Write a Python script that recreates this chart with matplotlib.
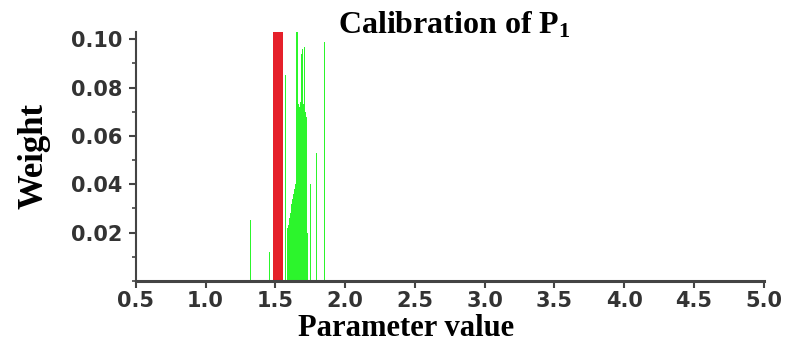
import numpy as np
import matplotlib
matplotlib.use("Agg")
from matplotlib import pyplot as plt
from matplotlib.ticker import MultipleLocator

# particle values and weights (green) and the selected value (red)
green_x = [1.324, 1.460, 1.575, 1.585, 1.590, 1.595, 1.600, 1.605, 1.610,
           1.615, 1.620, 1.625, 1.630, 1.635, 1.640, 1.645, 1.650, 1.655,
           1.660, 1.665, 1.670, 1.675, 1.680, 1.685, 1.690, 1.695, 1.700,
           1.705, 1.710, 1.715, 1.720, 1.725, 1.730, 1.751, 1.794, 1.854]
green_w = [0.025, 0.012, 0.085, 0.022, 0.021, 0.023, 0.024, 0.026, 0.028,
           0.030, 0.032, 0.034, 0.036, 0.037, 0.038, 0.040, 0.072, 0.103,
           0.074, 0.073, 0.070, 0.072, 0.074, 0.075, 0.094, 0.096, 0.073,
           0.071, 0.097, 0.070, 0.068, 0.030, 0.020, 0.040, 0.053, 0.099]
red_x = [1.52]
red_w = [0.103]

x_ticks = [0.5, 1.0, 1.5, 2.0, 2.5, 3.0, 3.5, 4.0, 4.5, 5.0]
y_ticks = [0.02, 0.04, 0.06, 0.08, 0.10]

plt.rcParams["mathtext.fontset"] = "custom"
plt.rcParams["mathtext.rm"] = "Liberation Serif:bold"
plt.rcParams["mathtext.bf"] = "Liberation Serif:bold"
plt.rcParams["mathtext.it"] = "Liberation Serif:bold"

fig = plt.figure(figsize=(7.94, 3.48), dpi=100)
ax = fig.add_axes([0.171, 0.193, 0.791, 0.715])

ax.bar(green_x, green_w, width=0.009, color="#2cf52c", edgecolor="none", align="center")
ax.bar(red_x, red_w, width=0.07, color="#e5202a", edgecolor="none", align="center")

ax.set_xlim(0.5, 5.0)
ax.set_ylim(0, 0.103)
ax.set_xticks(x_ticks)
ax.set_xticklabels(["%.1f" % v for v in x_ticks])
ax.set_yticks(y_ticks)
ax.set_yticklabels(["%.2f" % v for v in y_ticks])
ax.yaxis.set_minor_locator(MultipleLocator(0.01))

for s in ["top", "right"]:
    ax.spines[s].set_visible(False)
ax.spines["bottom"].set_linewidth(2.2)
ax.spines["left"].set_linewidth(1.5)
ax.spines["bottom"].set_color("#444444")
ax.spines["left"].set_color("#444444")

ax.tick_params(axis="both", which="major", direction="out", length=5,
               width=1.5, color="#444444", labelcolor="#333333", labelsize=15)
ax.tick_params(axis="x", pad=2)
ax.tick_params(axis="y", pad=5)
ax.tick_params(axis="y", which="minor", direction="out", length=3, width=1.2, color="#444444")
for lab in ax.get_xticklabels() + ax.get_yticklabels():
    lab.set_fontweight("bold")

ax.set_xlabel("Parameter value", family="Liberation Serif", fontweight="bold", fontsize=22)
ax.xaxis.set_label_coords(0.43, -0.135)
ax.set_ylabel("Weight", family="Liberation Serif", fontweight="bold", fontsize=25)
ax.yaxis.set_label_coords(-0.135, 0.5)
fig.text(0.572, 0.885, "Calibration of P$_\\mathrm{1}$", ha="center", va="bottom",
         family="Liberation Serif", fontweight="bold", fontsize=23)

fig.savefig("out.png", dpi=100)
